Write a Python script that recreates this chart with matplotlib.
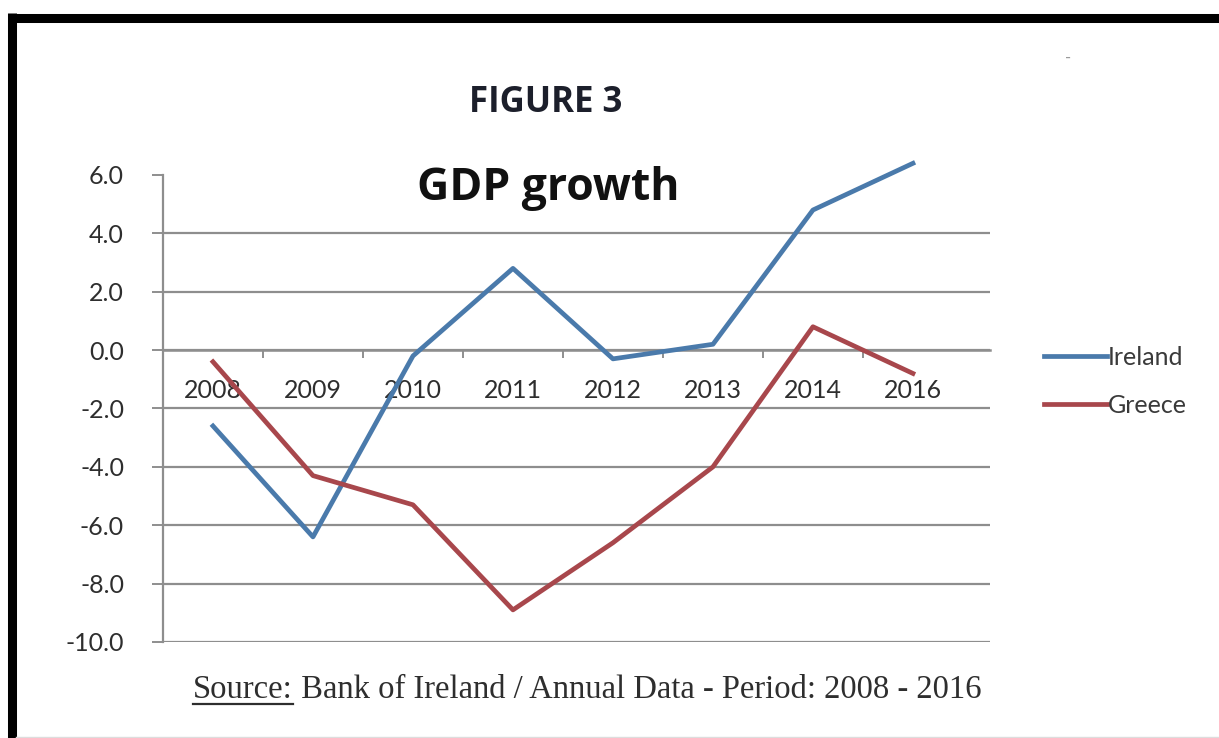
import matplotlib
matplotlib.use("Agg")
import matplotlib.pyplot as plt
from matplotlib.lines import Line2D

years = ["2008", "2009", "2010", "2011", "2012", "2013", "2014", "2016"]
ireland = [-2.6, -6.4, -0.2, 2.8, -0.3, 0.2, 4.8, 6.4]
greece = [-0.4, -4.3, -5.3, -8.9, -6.6, -4.0, 0.8, -0.8]
y_ticks = [-10, -8, -6, -4, -2, 0, 2, 4, 6]

BLUE = "#4a7aab"
RED = "#a8474c"
GRID = "#8e8e8e"
TEXT = "#2e2e2e"

plt.rcParams["font.family"] = ["Lato", "DejaVu Sans"]

fig = plt.figure(figsize=(12.19, 7.38), dpi=100)
ax = fig.add_axes([0.1337, 0.1301, 0.6784, 0.6328])

x = list(range(len(years)))
ax.plot(x, ireland, color=BLUE, lw=3.4, label="Ireland", clip_on=False, zorder=3)
ax.plot(x, greece, color=RED, lw=3.4, label="Greece", clip_on=False, zorder=3)

ax.set_ylim(-10, 6)
ax.set_xlim(-0.5, 7.77)
ax.set_yticks(y_ticks)
ax.set_yticklabels([f"{v:.1f}" for v in y_ticks], fontsize=18, color=TEXT)
ax.tick_params(axis="y", direction="out", length=8, width=1.4, color=GRID, pad=20)

# horizontal gridlines, none at the top value
ax.yaxis.grid(True, color=GRID, lw=1.6)
ax.set_axisbelow(True)
ax.get_ygridlines()[-1].set_visible(False)

# category axis crosses at zero
for side in ["top", "right"]:
    ax.spines[side].set_visible(False)
ax.spines["left"].set_color(GRID)
ax.spines["left"].set_linewidth(1.6)
ax.spines["bottom"].set_position(("data", 0))
ax.spines["bottom"].set_color(GRID)
ax.spines["bottom"].set_linewidth(1.8)
ax.set_xticks(x)
ax.set_xticklabels(years, fontsize=18, color=TEXT)
ax.tick_params(axis="x", which="major", length=0, pad=21)
ax.set_xticks([i + 0.5 for i in range(len(years) - 1)], minor=True)
ax.tick_params(axis="x", which="minor", direction="out", length=6, width=1.4, color=GRID)

ax.legend(loc="center left", bbox_to_anchor=(0.848, 0.483), bbox_transform=fig.transFigure,
          frameon=False, fontsize=18, handlelength=2.55, handletextpad=0.0,
          labelspacing=1.0, labelcolor="#3a3a3a", borderaxespad=0)

fig.text(0.448, 0.860, "FIGURE 3", fontsize=25, fontweight="bold", color="#1c1f2b",
         ha="center", va="center", family=["Open Sans", "DejaVu Sans"])
fig.text(0.450, 0.745, "GDP growth", fontsize=32, fontweight="bold", color="#111111",
         ha="center", va="center", family=["Open Sans", "DejaVu Sans"])
fig.text(0.876, 0.922, "-", fontsize=12, color="#9a9a9a", ha="center", va="center")

# source line with the first word underlined
src_font = dict(fontsize=23.5, color=TEXT, family=["Liberation Serif", "DejaVu Serif"], va="baseline")
src = fig.text(193 / 1219, 1 - 698 / 738, "Source:", **src_font)
fig.canvas.draw()
bb = src.get_window_extent()
fig.text(bb.x1 / fig.bbox.width, 1 - 698 / 738,
         " Bank of Ireland / Annual Data - Period: 2008 - 2016", **src_font)
uy = 1 - 704 / 738
fig.add_artist(Line2D([bb.x0 / fig.bbox.width, bb.x1 / fig.bbox.width], [uy, uy],
                      transform=fig.transFigure, color=TEXT, lw=1.6))

# frame: heavy left and top edges, faint bottom
fig.add_artist(Line2D([12 / 1219, 12 / 1219], [0, 1 - 13 / 738], transform=fig.transFigure,
                      color="black", lw=6.5, solid_capstyle="butt"))
fig.add_artist(Line2D([8 / 1219, 1], [1 - 17.5 / 738, 1 - 17.5 / 738], transform=fig.transFigure,
                      color="black", lw=6.5, solid_capstyle="butt"))
fig.add_artist(Line2D([16 / 1219, 1], [1 - 737 / 738, 1 - 737 / 738], transform=fig.transFigure,
                      color="#dddddd", lw=1.0))

fig.savefig("out.png", dpi=100)
